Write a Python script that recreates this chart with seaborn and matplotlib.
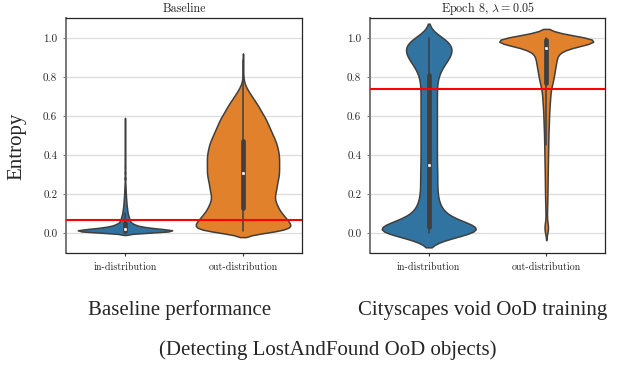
import numpy as np
import pandas as pd
import matplotlib
matplotlib.use("Agg")
import matplotlib.pyplot as plt
import seaborn as sns

# categories / labels
categories = ["in-distribution", "out-distribution"]
titles = ["Baseline", r"Epoch 8, $\lambda = 0.05$"]
thresholds = [0.067, 0.738]
yticks = [0.0, 0.2, 0.4, 0.6, 0.8, 1.0]
ytick_labels = ["0.0", "0.2", "0.4", "0.6", "0.8", "1.0"]
captions = ["Baseline performance", "Cityscapes void OoD training"]
subcaption = "(Detecting LostAndFound OoD objects)"

# entropy values (value -> how many pixels/samples)
base_in_vals = [0.000, 0.004, 0.008, 0.012, 0.016, 0.020, 0.025, 0.030, 0.035, 0.040,
                0.045, 0.05, 0.06, 0.07, 0.08, 0.09, 0.10, 0.11, 0.12, 0.13,
                0.14, 0.15, 0.16, 0.17, 0.18, 0.19, 0.20, 0.21, 0.22, 0.23,
                0.24, 0.25, 0.28, 0.31, 0.34, 0.37, 0.40, 0.43, 0.46, 0.49,
                0.52, 0.55, 0.58]
base_in_counts = [300, 700, 950, 1000, 850, 750, 625, 440, 310, 240,
                  190, 225, 250, 200, 175, 150, 125, 112, 100, 88,
                  75, 70, 62, 55, 50, 42, 38, 32, 30, 25,
                  22, 20, 40, 30, 25, 20, 15, 12, 10, 8,
                  6, 5, 4]

base_out_vals = [0.01, 0.03, 0.05, 0.07, 0.09, 0.11, 0.13, 0.15, 0.17, 0.19,
                 0.21, 0.23, 0.25, 0.27, 0.29, 0.31, 0.33, 0.35, 0.37, 0.39,
                 0.41, 0.43, 0.45, 0.47, 0.49, 0.51, 0.53, 0.55, 0.57, 0.59,
                 0.61, 0.63, 0.65, 0.67, 0.69, 0.71, 0.73, 0.75, 0.77, 0.79,
                 0.81, 0.83, 0.85, 0.87, 0.89]
base_out_counts = [1000, 1150, 1100, 1020, 950, 870, 820, 780, 740, 740,
                   760, 780, 790, 810, 830, 840, 840, 840, 840, 840,
                   830, 810, 790, 760, 720, 680, 640, 600, 560, 520,
                   460, 410, 360, 300, 240, 180, 120, 70, 30, 15,
                   8, 5, 3, 2, 1]

ep8_in_vals = [0.00, 0.01, 0.02, 0.03, 0.05, 0.07, 0.09, 0.11, 0.13, 0.15,
               0.17, 0.19, 0.21, 0.23, 0.25, 0.27, 0.29, 0.31, 0.33, 0.35,
               0.37, 0.39, 0.41, 0.43, 0.45, 0.47, 0.49, 0.51, 0.53, 0.55,
               0.57, 0.59, 0.61, 0.63, 0.65, 0.67, 0.69, 0.71, 0.73, 0.75,
               0.77, 0.79, 0.81, 0.83, 0.85, 0.87, 0.89, 0.91, 0.93, 0.95,
               0.97, 0.99, 1.00]
ep8_in_counts = [600, 900, 700, 400, 400, 300, 240, 190, 160, 140,
                 130, 120, 115, 115, 115, 115, 115, 115, 115, 110,
                 110, 110, 110, 110, 110, 110, 110, 110, 110, 110,
                 110, 110, 110, 110, 110, 110, 110, 110, 110, 110,
                 110, 120, 130, 150, 180, 220, 270, 310, 340, 340,
                 310, 260, 200]

ep8_out_vals = [0.01, 0.03, 0.05, 0.07, 0.09, 0.11, 0.13, 0.15, 0.17, 0.19,
                0.21, 0.23, 0.25, 0.27, 0.29, 0.31, 0.33, 0.35, 0.37, 0.39,
                0.41, 0.43, 0.45, 0.47, 0.49, 0.51, 0.53, 0.55, 0.57, 0.59,
                0.61, 0.63, 0.65, 0.67, 0.69, 0.71, 0.73, 0.75, 0.77, 0.79,
                0.81, 0.83, 0.85, 0.87, 0.89, 0.91, 0.93, 0.95, 0.97, 0.98,
                0.99, 1.00]
ep8_out_counts = [70, 80, 30, 20, 20, 25, 25, 30, 35, 35,
                  38, 38, 42, 42, 42, 47, 47, 51, 51, 55,
                  55, 60, 60, 64, 64, 68, 72, 77, 81, 85,
                  89, 94, 102, 110, 119, 128, 136, 153, 200, 220,
                  240, 260, 280, 300, 320, 340, 360, 600, 900, 1000,
                  1200, 1400]


def to_long(in_vals, in_counts, out_vals, out_counts):
    ent = np.concatenate([np.repeat(in_vals, in_counts), np.repeat(out_vals, out_counts)])
    lab = [categories[0]] * int(sum(in_counts)) + [categories[1]] * int(sum(out_counts))
    return pd.DataFrame({"split": lab, "entropy": ent})


df_base = to_long(base_in_vals, base_in_counts, base_out_vals, base_out_counts)
df_ep8 = to_long(ep8_in_vals, ep8_in_counts, ep8_out_vals, ep8_out_counts)

sns.set_style("whitegrid", {"grid.color": "#dddddd"})
plt.rcParams["font.family"] = ["cmr10", "DejaVu Serif"]
plt.rcParams["mathtext.fontset"] = "cm"
plt.rcParams["axes.formatter.use_mathtext"] = True

W, H = 621, 366
fig = plt.figure(figsize=(W / 100, H / 100), dpi=100)
ax1 = fig.add_axes([66 / W, 1 - 253 / H, 236 / W, 235 / H])
ax2 = fig.add_axes([370 / W, 1 - 253 / H, 235 / W, 235 / H])

for ax, df, thr, title, bw in zip([ax1, ax2], [df_base, df_ep8], thresholds, titles, [0.08, 0.1]):
    sns.violinplot(data=df, x="split", y="entropy", hue="split",
                   order=categories, hue_order=categories,
                   palette=["#1f77b4", "#ff7f0e"], saturation=0.75, legend=False,
                   bw_method=bw, density_norm="width", width=0.8,
                   linewidth=1.1, linecolor="#3f3f3f", inner="box",
                   inner_kws=dict(box_width=3.4, whis_width=1.1, marker="o",
                                  markersize=1.8, markeredgewidth=0.4),
                   ax=ax)
    ax.axhline(thr, color="red", lw=1.5, zorder=5)
    ax.set_ylim(-0.103, 1.103)
    ax.set_yticks(yticks)
    ax.set_yticklabels(ytick_labels)
    ax.set_xlabel("")
    ax.set_ylabel("")
    ax.set_title(title, fontsize=8.7, pad=4.5)
    ax.tick_params(axis="y", labelsize=8, length=2, pad=4.3, color="#777777", left=True)
    ax.tick_params(axis="x", labelsize=7.2, length=2.5, pad=4.3, color="#333333", bottom=True)
    ax.grid(axis="x", visible=False)
    ax.grid(axis="y", color="#dddddd", lw=0.9)
    for side in ["top", "right", "bottom"]:
        ax.spines[side].set_color("#262626")
        ax.spines[side].set_linewidth(0.9)
    ax.spines["left"].set_color("#777777")
    ax.spines["left"].set_linewidth(1.4)

fig.text(17 / W, 1 - 146.7 / H, "Entropy", rotation=90, ha="center", va="center",
         family="Liberation Serif", fontsize=15)
fig.text(180 / W, 1 - 315 / H, captions[0], ha="center", va="baseline",
         family="Liberation Serif", fontsize=15)
fig.text(482.5 / W, 1 - 315 / H, captions[1], ha="center", va="baseline",
         family="Liberation Serif", fontsize=15)
fig.text(328 / W, 1 - 355 / H, subcaption, ha="center", va="baseline",
         family="Liberation Serif", fontsize=15)

fig.savefig("out.png", dpi=100)
